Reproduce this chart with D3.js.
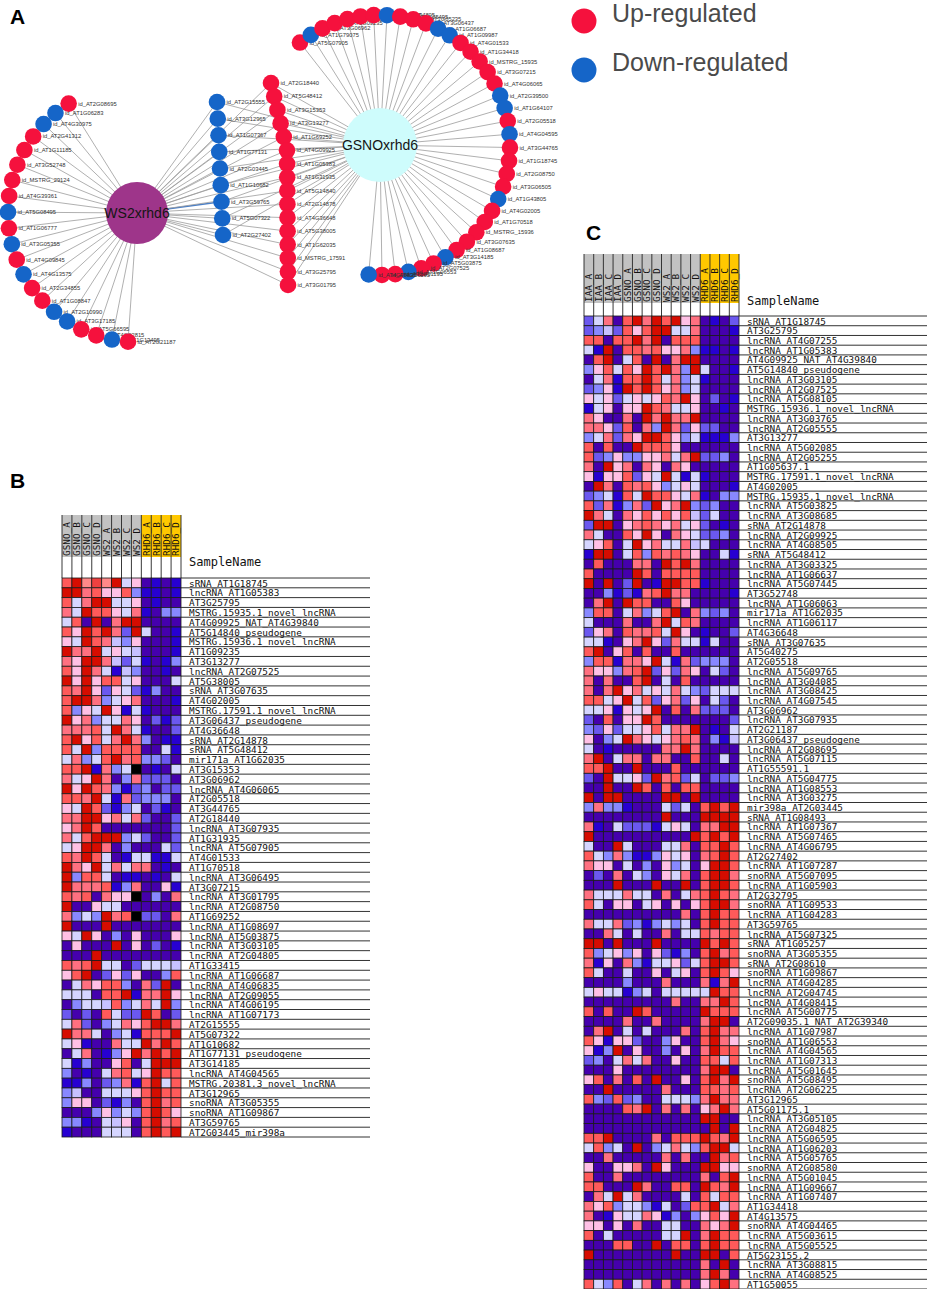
<!DOCTYPE html>
<html lang="en">
<head>
<meta charset="utf-8">
<title>WS2xrhd6 / GSNOxrhd6 network and heatmaps</title>
<script src="https://d3js.org/d3.v7.min.js"></script>
<style>
  body { margin: 0; background: #fff; }
  svg text { font-family: "Liberation Sans", Arial, Helvetica, sans-serif; }
  svg text.mono { font-family: "DejaVu Sans Mono", monospace; }
</style>
</head>
<body>
<script>

// ---------------- data: panel A network ----------------

// targets of WS2xrhd6 only (left arc, top to bottom)
const ws2Only = ["id_AT2G08695","id_AT1G06283","id_AT4G30975","id_AT2G41312","id_AT1G11185",
  "id_AT3G52748","id_MSTRG_29124","id_AT4G39361","id_AT5G08495","id_AT1G06777","id_AT3G05355",
  "id_AT4G09845","id_AT4G13575","id_AT2G34855","id_AT1G08847","id_AT2G10990","id_AT3G17185",
  "id_AT5G66595","id_AT4G02815","id_AT1G13495","id_AT2G21187"];
const ws2OnlyReg = ["up","down","down","up","up","up","up","up","down","up","down",
  "up","down","up","up","down","down","up","up","down","up"];

// shared targets, down-regulated column
const sharedDown = ["id_AT2G15555","id_AT3G12965","id_AT1G07367","id_AT1G77131","id_AT2G03445",
  "id_AT1G10682","id_AT3G59765","id_AT5G07322","id_AT2G27402"];

// shared targets, up-regulated column
const sharedUp = ["id_AT2G18440","id_AT5G48412","id_AT3G15353","id_AT3G13277","id_AT1G69252",
  "id_AT4G09925","id_AT1G05383","id_AT1G31935","id_AT5G14840","id_AT2G14878","id_AT4G36648",
  "id_AT5G38005","id_AT1G62035","id_MSTRG_17591","id_AT3G25795","id_AT3G01795"];

// targets of GSNOxrhd6 only (ring, clockwise from upper left)
const gsnoOnly = ["id_AT5G07905","id_AT1G79075","id_AT3G06962","id_AT1G09235","id_AT3G06495",
  "id_AT3G07935","id_AT3G04085","id_AT2G04805","id_AT3G25495","id_AT1G05235","id_AT3G06437",
  "id_AT1G06687","id_AT1G09987","id_AT4G01533","id_AT1G34418","id_MSTRG_15935","id_AT3G07215",
  "id_AT4G06065","id_AT2G39500","id_AT1G64107","id_AT2G05518","id_AT4G04595","id_AT3G44765",
  "id_AT1G18745","id_AT2G08750","id_AT3G06505","id_AT1G43805","id_AT4G02005","id_AT1G70518",
  "id_MSTRG_15936","id_AT3G07635","id_AT1G08687","id_AT3G14185","id_AT5G03875","id_AT2G07525",
  "id_AT1G06553","id_AT2G01195","id_AT4G06195","id_AT4G06835"];
const gsnoOnlyReg = ["up","down","up","up","up","up","up","down","up","up","up",
  "down","down","up","up","up","up","up","down","down","up","down","up",
  "up","up","up","down","up","up","up","up","up","down","up","up",
  "down","up","up","down"];

const legendItems = [{key: "up", text: "Up-regulated"}, {key: "down", text: "Down-regulated"}];

// ---------------- data: heatmaps ----------------
// cell values are colour-level codes 0..b (0 = lowest, b = highest), x = missing

const bSamples = ["GSNO_A","GSNO_B","GSNO_C","GSNO_D","WS2_A","WS2_B","WS2_C","WS2_D",
  "RHD6_A","RHD6_B","RHD6_C","RHD6_D"];
const bGenes = ["sRNA_AT1G18745","lncRNA_AT1G05383","AT3G25795","MSTRG.15935.1_novel_lncRNA",
  "AT4G09925_NAT_AT4G39840","AT5G14840_pseudogene","MSTRG.15936.1_novel_lncRNA","AT1G09235",
  "AT3G13277","lncRNA_AT2G07525","AT5G38005","sRNA_AT3G07635","AT4G02005",
  "MSTRG.17591.1_novel_lncRNA","AT3G06437_pseudogene","AT4G36648","sRNA_AT2G14878",
  "sRNA_AT5G48412","mir171a_AT1G62035","AT3G15353","AT3G06962","lncRNA_AT4G06065","AT2G05518",
  "AT3G44765","AT2G18440","lncRNA_AT3G07935","AT1G31935","lncRNA_AT5G07905","AT4G01533",
  "AT1G70518","lncRNA_AT3G06495","AT3G07215","lncRNA_AT3G01795","lncRNA_AT2G08750","AT1G69252",
  "lncRNA_AT1G08697","lncRNA_AT5G03875","lncRNA_AT3G03105","lncRNA_AT2G04805","AT1G33415",
  "lncRNA_AT1G06687","lncRNA_AT4G06835","lncRNA_AT2G09055","lncRNA_AT4G06195","lncRNA_AT1G07173",
  "AT2G15555","AT5G07322","AT1G10682","AT1G77131_pseudogene","AT3G14185","lncRNA_AT4G04565",
  "MSTRG.20381.3_novel_lncRNA","AT3G12965","snoRNA_AT3G05355","snoRNA_AT1G09867","AT3G59765",
  "AT2G03445_mir398a"];
const bValues = ["9b7a7b560101","bb8966931101","958bb5560100","85b996581033","590b08bb0000",
  "96b9b82b5001","65b984360001","b88b56540001","86bb84251013","96b851430010","b6b699560005",
  "98b626521300","9bb835680001","9365b6151000","b68355860212","88895b851002","9b6958b83011",
  "95b399990051","58359b893320","99b1835x0105","856b80382220","b6b983123022","998b51823330",
  "65b921350210","88bb68582002","68b900000002","859bbb352002","56bb80300052","98b950155115",
  "b86b58588010","b39950110105","b88891380061","9890866x0308","b00655000000","8353b89x2208",
  "b000b0000000","65b603060006","06000b060201","000b00000000","989b55025554","69b026260039",
  "0586993082b0","555099b188b6","0355493585b3","20209522b902","582035869bb8","b8850351999b",
  "56100855b8b9","0580136b8b9b","513006905bbb","301058956b99","113023819b59","340055569b99",
  "366021309b89","000363539b96","331054609b89","100055509b9b"];

const cSamples = ["IAA_A","IAA_B","IAA_C","IAA_D","GSNO_A","GSNO_B","GSNO_C","GSNO_D",
  "WS2_A","WS2_B","WS2_C","WS2_D","RHD6_A","RHD6_B","RHD6_C","RHD6_D"];
const cGenes = ["sRNA_AT1G18745","AT3G25795","lncRNA_AT4G07255","lncRNA_AT1G05383",
  "AT4G09925_NAT_AT4G39840","AT5G14840_pseudogene","lncRNA_AT3G03105","lncRNA_AT2G07525",
  "lncRNA_AT5G08105","MSTRG.15936.1_novel_lncRNA","lncRNA_AT3G03765","lncRNA_AT2G05555",
  "AT3G13277","lncRNA_AT5G02085","lncRNA_AT2G05255","AT1G05637.1","MSTRG.17591.1_novel_lncRNA",
  "AT4G02005","MSTRG.15935.1_novel_lncRNA","lncRNA_AT5G03825","lncRNA_AT3G08685","sRNA_AT2G14878",
  "lncRNA_AT2G09925","lncRNA_AT4G08505","sRNA_AT5G48412","lncRNA_AT3G03325","lncRNA_AT1G06637",
  "lncRNA_AT5G07445","AT3G52748","lncRNA_AT1G06063","mir171a_AT1G62035","lncRNA_AT1G06117",
  "AT4G36648","sRNA_AT3G07635","AT5G40275","AT2G05518","lncRNA_AT5G09765","lncRNA_AT3G04085",
  "lncRNA_AT3G08425","lncRNA_AT4G07545","AT3G06962","lncRNA_AT3G07935","AT2G21187",
  "AT3G06437_pseudogene","lncRNA_AT2G08695","lncRNA_AT5G07115","AT1G55591.1","lncRNA_AT5G04775",
  "lncRNA_AT1G08553","lncRNA_AT3G03275","mir398a_AT2G03445","sRNA_AT1G08493","lncRNA_AT1G07367",
  "lncRNA_AT5G07465","lncRNA_AT4G06795","AT2G27402","lncRNA_AT1G07287","snoRNA_AT5G07095",
  "lncRNA_AT1G05903","AT2G32795","snoRNA_AT1G09533","lncRNA_AT1G04283","AT3G59765",
  "lncRNA_AT5G07325","sRNA_AT1G05257","snoRNA_AT3G05355","sRNA_AT2G08610","snoRNA_AT1G09867",
  "lncRNA_AT4G04285","lncRNA_AT2G04745","lncRNA_AT4G08415","lncRNA_AT5G00775",
  "AT2G09035.1_NAT_AT2G39340","lncRNA_AT1G07987","snoRNA_AT1G06553","lncRNA_AT4G04565",
  "lncRNA_AT1G07313","lncRNA_AT5G01645","snoRNA_AT5G08495","lncRNA_AT2G06225","AT3G12965",
  "AT5G01175.1","lncRNA_AT3G05105","lncRNA_AT2G04825","lncRNA_AT5G06595","lncRNA_AT1G06203",
  "lncRNA_AT5G05765","snoRNA_AT2G08580","lncRNA_AT5G01045","lncRNA_AT1G09667","lncRNA_AT1G07407",
  "AT1G34418","AT4G13575","snoRNA_AT4G04465","lncRNA_AT5G03615","lncRNA_AT5G05525","AT5G23155.2",
  "lncRNA_AT3G08815","lncRNA_AT4G08525","AT1G50055"];
const cValues = ["25809b8b9b680102","2342969bb5580001","99099b8b09990000","51b0998966831101",
  "09b0590b08bb0000","369596b9b83b5001","058199b958351000","2361b9b968350000","6562565698b60201",
  "156066b985560010","860080b8b88b0000","88629083b8262200","358286bb96351113","90900b9996000000",
  "92363366858b2230","80b6808608600000","61669265b5151000","0b80989635650001","235195b996581033",
  "9281382b68b32300","b850869696942500","2bb0689868562010","850096b608652230","56905b6855845000",
  "1bb0593989860051","09000880b9b80000","90000b9099990000","b0b02b01bb991000","00312189b8800001",
  "08b0b99009600000","399058359b083230","50008008b5980000","268098895b601002","551068b628551500",
  "9b06909009000000","3991886b51823330","866389b262860520","808009b050900000","808b685658532555",
  "9956b59268260520","5561656b09082220","209066b900000002","32625569588b0105","6035b86568980314",
  "5010000088b80000","8b05880880090050","99b00b0009000000","20b5562b89250223","00b00b9090990000",
  "b0bb0000bb0b0000","3833100052509b9b","00000000b000bbbb","81052221565088bb","b0000000000b9b9b",
  "500b5000558099b9","95383113656089b9","8660503063506bb9","0208053065809bb8","000b000b00b09bb9",
  "8555855080589b98","9506605606069bb8","0000000000809b99","8558231353509b99","0085050080559899",
  "bb0b000b0000b9b9","9356360621309b89","8160831556259bb9","9500500605609b96","000030008000818b",
  "5655135055555b99","00000000080088b9","90900b900000b999","0000800800008bb0","08b0505000809b88",
  "9616620036009b86","613b060030608b99","2305858006009959","0006000000008bb0","6908090b00609b8b",
  "00b0000080009989","9329230055538b88","000098b0808068b8","000000000000bb00","0000000000000b0b",
  "99b000080999b98b","59350b0358539bb5","0080000080800b89","6006680b6000bb66","900800000000809b",
  "99000b800990b98b","085b580000509599","8693553150299b58","801655861303696b","660608005500868b",
  "9050000055b08b99","0009900b09909b99","b00000000b00bb09","00000000000080b0","0000000000008b80",
  "95390580808069b8"];

// ---------------- setup ----------------

const W = 927, H = 1289;
const svg = d3.select("body").append("svg")
  .attr("width", W)
  .attr("height", H);

svg.append("rect")
   .attr("width", W)
   .attr("height", H)
   .attr("fill", "white");

const regColor = d3.scaleOrdinal()
  .domain(["up", "down"])
  .range(["#f5113d", "#1565c8"]);

// panel letters
svg.selectAll("text.panel")
  .data([{t: "A", x: 10, y: 24}, {t: "B", x: 10, y: 488}, {t: "C", x: 586, y: 240}])
  .join("text")
  .attr("class", "panel")
  .attr("x", d => d.x)
  .attr("y", d => d.y)
  .attr("font-size", 21)
  .attr("font-weight", "bold")
  .text(d => d.t);

// ---------------- panel A: network ----------------

const hubs = {
  ws2:  {name: "WS2xrhd6",  x: 137, y: 213, r: 31, fill: "#9e358a"},
  gsno: {name: "GSNOxrhd6", x: 380, y: 145, r: 37, fill: "#cefcfc"}
};
const nodeR = 8.3;
const rad = Math.PI / 180;

const nodes = [];

// left arc around WS2
const ws2Angle = d3.scaleLinear().domain([0, ws2Only.length - 1]).range([-122, -266]);
ws2Only.forEach((id, i) => {
  const a = ws2Angle(i) * rad;
  nodes.push({id, reg: ws2OnlyReg[i], hubs: ["ws2"],
    x: hubs.ws2.x + 129 * Math.cos(a), y: hubs.ws2.y + 129 * Math.sin(a)});
});

// shared columns
const downY = d3.scalePoint().domain(sharedDown).range([102, 235]);
const downX = d3.scaleLinear().domain([0, sharedDown.length - 1]).range([217, 223]);
sharedDown.forEach((id, i) => {
  nodes.push({id, reg: "down", hubs: ["ws2", "gsno"], x: downX(i), y: downY(id)});
});

const upY = d3.scalePoint().domain(sharedUp).range([83, 285]);
const upX = d3.scaleLinear().domain([0, 5, sharedUp.length - 1]).range([271, 287, 288]);
sharedUp.forEach((id, i) => {
  nodes.push({id, reg: "up", hubs: ["ws2", "gsno"], x: upX(i), y: upY(id)});
});

// ring around GSNO
const gsnoAngle = d3.scaleLinear().domain([0, gsnoOnly.length - 1]).range([-128, 95]);
gsnoOnly.forEach((id, i) => {
  const a = gsnoAngle(i) * rad;
  nodes.push({id, reg: gsnoOnlyReg[i], hubs: ["gsno"],
    x: hubs.gsno.x + 130 * Math.cos(a), y: hubs.gsno.y + 130 * Math.sin(a)});
});

const edges = [];
nodes.forEach(n => n.hubs.forEach(h => edges.push({source: hubs[h], target: n, hub: h})));

const net = svg.append("g").attr("id", "network");

const isBlueEdge = d => d.hub === "ws2" && d.target.id === "id_AT3G59765";

net.append("g")
  .selectAll("line")
  .data(edges)
  .join("line")
  .attr("x1", d => d.source.x)
  .attr("y1", d => d.source.y)
  .attr("x2", d => d.target.x)
  .attr("y2", d => d.target.y)
  .attr("stroke", d => isBlueEdge(d) ? "#4a7fc8" : "#9c9c9c")
  .attr("stroke-width", d => isBlueEdge(d) ? 1.4 : 0.8);

const nodeG = net.append("g")
  .selectAll("g")
  .data(nodes)
  .join("g")
  .attr("transform", d => `translate(${d.x},${d.y})`);

nodeG.append("circle")
  .attr("r", nodeR)
  .attr("fill", d => regColor(d.reg));

nodeG.append("text")
  .attr("x", 9.5)
  .attr("dy", "0.35em")
  .attr("font-size", 5.8)
  .attr("fill", "#333")
  .text(d => d.id);

const hubG = net.append("g")
  .selectAll("g")
  .data(Object.values(hubs))
  .join("g")
  .attr("transform", d => `translate(${d.x},${d.y})`);

hubG.append("circle")
  .attr("r", d => d.r)
  .attr("fill", d => d.fill);

hubG.append("text")
  .attr("text-anchor", "middle")
  .attr("dy", "0.36em")
  .attr("font-size", 14)
  .attr("fill", "#151515")
  .text(d => d.name);

// legend
const legY = d3.scalePoint().domain(legendItems.map(d => d.key)).range([21, 70]);
const leg = svg.append("g")
  .selectAll("g")
  .data(legendItems)
  .join("g")
  .attr("transform", d => `translate(584,${legY(d.key)})`);

leg.append("circle")
  .attr("r", 12.5)
  .attr("fill", d => regColor(d.key));

leg.append("text")
  .attr("x", 28)
  .attr("y", 1)
  .attr("font-size", 25)
  .attr("fill", "#4a4a4a")
  .text(d => d.text);

// ---------------- panels B and C: heatmaps ----------------

const palette = ["#4500ad","#2700d1","#6b58ef","#8888ff","#c7c1ff","#d5d5ff",
                 "#ffc0e5","#ff8989","#ff7080","#ff5a5a","#ef4040","#d60c00"];
const heatColor = d3.scaleQuantize().domain([-0.5, 11.5]).range(palette);

function heatmap(opt) {
  const g = svg.append("g").attr("id", opt.id);

  const x = d3.scaleBand().domain(opt.samples).range([opt.x0, opt.x1]);
  const y = d3.scaleBand().domain(opt.genes).range([opt.y0, opt.y1]);
  const bw = x.bandwidth(), bh = y.bandwidth();

  // header column fills
  g.append("g")
    .selectAll("rect")
    .data(opt.samples)
    .join("rect")
    .attr("x", d => x(d))
    .attr("y", opt.hTop)
    .attr("width", bw)
    .attr("height", opt.hFill - opt.hTop)
    .attr("fill", d => d.startsWith("RHD6") ? "#ffc800" : "#c2c2c2");

  // header column separators
  g.append("g")
    .selectAll("line")
    .data(d3.range(opt.samples.length + 1))
    .join("line")
    .attr("x1", i => opt.x0 + i * bw)
    .attr("x2", i => opt.x0 + i * bw)
    .attr("y1", opt.hTop)
    .attr("y2", opt.y0)
    .attr("stroke", "#222")
    .attr("stroke-width", 0.9);

  // rotated sample names
  g.append("g")
    .selectAll("text")
    .data(opt.samples)
    .join("text")
    .attr("class", "mono")
    .attr("transform", d => `translate(${x(d) + bw / 2 + 3.4},${opt.hFill - 1}) rotate(-90)`)
    .attr("font-size", 9.4)
    .attr("fill", "#111")
    .text(d => d);

  // cells
  const cells = [];
  opt.genes.forEach((gene, i) => {
    opt.samples.forEach((s, j) => {
      const v = parseInt(opt.values[i].charAt(j), 16);
      cells.push({gene, sample: s, value: v});
    });
  });

  g.append("g")
    .selectAll("rect")
    .data(cells)
    .join("rect")
    .attr("x", d => x(d.sample))
    .attr("y", d => y(d.gene))
    .attr("width", bw)
    .attr("height", bh)
    .attr("fill", d => isNaN(d.value) ? "#000" : heatColor(d.value))
    .attr("stroke", "#1a1a1a")
    .attr("stroke-width", 0.8);

  // row separator lines under the labels
  g.append("g")
    .selectAll("line")
    .data(d3.range(opt.genes.length + 1))
    .join("line")
    .attr("x1", opt.x1)
    .attr("x2", opt.lineEnd)
    .attr("y1", i => opt.y0 + i * bh)
    .attr("y2", i => opt.y0 + i * bh)
    .attr("stroke", "#333")
    .attr("stroke-width", 1);

  // row labels
  g.append("g")
    .selectAll("text")
    .data(opt.genes)
    .join("text")
    .attr("class", "mono")
    .attr("x", opt.labelX)
    .attr("y", d => y(d) + bh - 1.2)
    .attr("font-size", 9.4)
    .attr("fill", "#111")
    .text(d => d);

  g.append("text")
    .attr("class", "mono")
    .attr("x", opt.labelX)
    .attr("y", opt.titleY)
    .attr("font-size", 12)
    .attr("fill", "#111")
    .text("SampleName");
}

heatmap({
  id: "heatB", samples: bSamples, genes: bGenes, values: bValues,
  x0: 62, x1: 181, y0: 578, y1: 1137, hTop: 515, hFill: 557,
  labelX: 189, lineEnd: 370, titleY: 566
});

heatmap({
  id: "heatC", samples: cSamples, genes: cGenes, values: cValues,
  x0: 584, x1: 739, y0: 316, y1: 1289, hTop: 254, hFill: 303,
  labelX: 747, lineEnd: 927, titleY: 305
});

</script>
</body>
</html>
